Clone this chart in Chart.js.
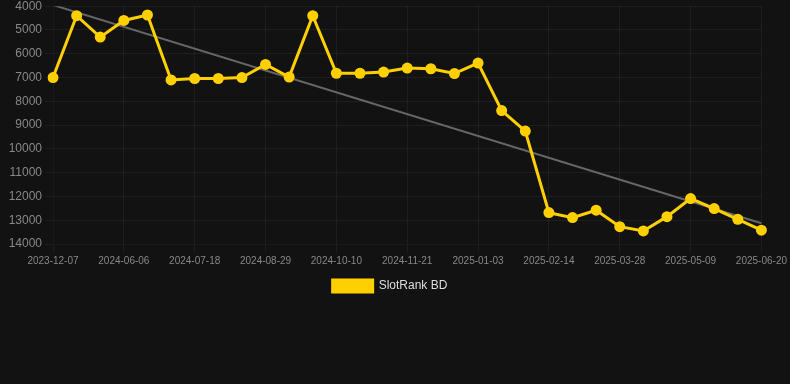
<!DOCTYPE html>
<html>
<head>
<meta charset="utf-8">
<script src="https://cdn.jsdelivr.net/npm/chart.js@4"></script>
<style>
    html, body { margin: 0; padding: 0; background: #121212; overflow: hidden; }
    .chart-box { position: relative; width: 790px; height: 306px; margin-top: -4px; }
</style>
</head>
<body>
<div class="chart-box"><canvas id="rankChart"></canvas></div>
<script>
const dates = [
    '2023-12-07', '2024-05-09', '2024-05-23', '2024-06-06', '2024-06-20', '2024-07-04',
    '2024-07-18', '2024-08-01', '2024-08-15', '2024-08-29', '2024-09-12', '2024-09-26',
    '2024-10-10', '2024-10-24', '2024-11-07', '2024-11-21', '2024-12-06', '2024-12-20',
    '2025-01-03', '2025-01-17', '2025-01-31', '2025-02-14', '2025-02-28', '2025-03-14',
    '2025-03-28', '2025-04-11', '2025-04-25', '2025-05-09', '2025-05-23', '2025-06-06',
    '2025-06-20'
];
const rankValues = [
    7000, 4400, 5300, 4600, 4370, 7100, 7040, 7040, 7000, 6450, 6980, 4400,
    6820, 6820, 6770, 6600, 6630, 6830, 6390, 8390, 9250, 12680, 12890, 12580,
    13270, 13450, 12850, 12090, 12510, 12960, 13420
];
// trend only has its two ends, the line is spanned between them
const trendValues = [3950, ...Array(29).fill(null), 13130];
const yTicks = { min: 4000, max: 14000, step: 1000 };

const font = { family: 'Liberation Sans, Arial, sans-serif' };

const ctx = document.getElementById('rankChart').getContext('2d');
const rankChart = new Chart(ctx, {
    type: 'line',
    data: {
        labels: dates,
        datasets: [
            {
                label: 'SlotRank BD',
                data: rankValues,
                borderColor: '#FFD000',
                backgroundColor: '#FFD000',
                borderWidth: 3,
                pointRadius: 5.5,
                pointBackgroundColor: '#FFD000',
                pointBorderWidth: 0,
                tension: 0
            },
            {
                label: 'trend',
                data: trendValues,
                borderColor: '#666666',
                borderWidth: 2,
                pointRadius: 0,
                spanGaps: true,
                tension: 0
            }
        ]
    },
    options: {
        responsive: true,
        maintainAspectRatio: false,
        animation: false,
        layout: { padding: { right: 10 } },
        plugins: {
            legend: {
                position: 'bottom',
                labels: {
                    color: '#dddddd',
                    font: { ...font, size: 12 },
                    filter: item => item.text !== 'trend'
                }
            },
            tooltip: { enabled: false }
        },
        scales: {
            x: {
                grid: { color: 'rgba(255,255,255,0.05)' },
                ticks: {
                    color: '#888888',
                    maxRotation: 0,
                    autoSkip: true,
                    maxTicksLimit: 11,
                    font: { ...font, size: 10 }
                }
            },
            y: {
                reverse: true,
                min: yTicks.min,
                max: yTicks.max,
                afterFit: scale => { scale.width = 53; },
                grid: { color: 'rgba(255,255,255,0.05)' },
                ticks: {
                    stepSize: yTicks.step,
                    color: '#888888',
                    font: { ...font, size: 12 },
                    callback: v => String(v)
                }
            }
        }
    }
});
</script>
</body>
</html>
